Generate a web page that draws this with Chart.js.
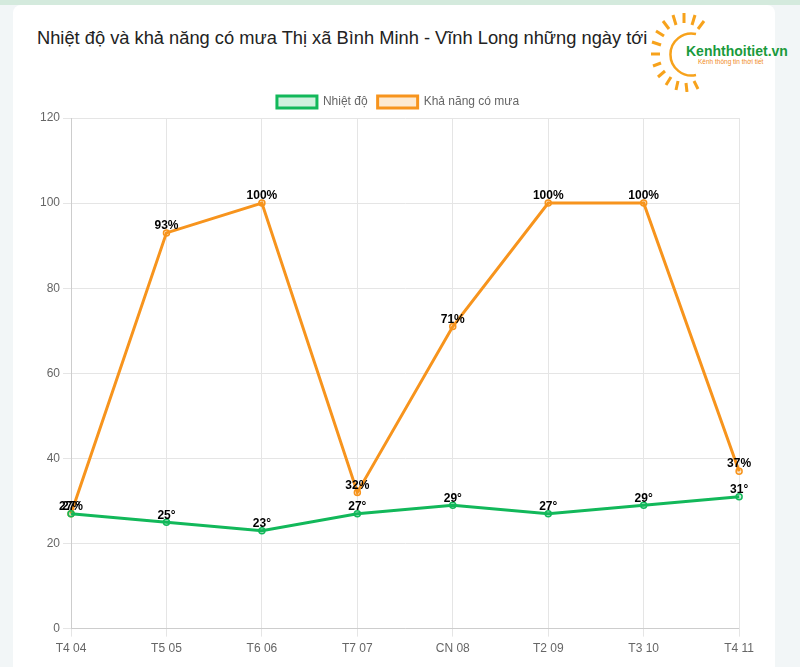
<!DOCTYPE html>
<html>
<head>
<meta charset="utf-8">
<script src="https://cdn.jsdelivr.net/npm/chart.js@4"></script>
<style>
  html, body { margin: 0; padding: 0; }
  body { width: 800px; height: 667px; background: #f2f6f7; position: relative; overflow: hidden; font-family: Arial, "Liberation Sans", sans-serif; }
  .topbar { position: absolute; left: 0; top: 0; width: 800px; height: 5px; background: #d4eadd; }
  .card { position: absolute; left: 13px; top: 5px; width: 762px; height: 680px; background: #fff; border-radius: 8px; }
  .title { position: absolute; left: 37px; top: 27px; font-size: 18.3px; color: #222; white-space: nowrap; }
  .logo { position: absolute; left: 648px; top: 12px; width: 152px; height: 80px; }
  .wrap { position: absolute; left: 37px; top: 86px; width: 722px; height: 581px; }
</style>
</head>
<body>
<div class="topbar"></div>
<div class="card"></div>
<div class="title">Nhiệt độ và khả năng có mưa Thị xã Bình Minh - Vĩnh Long những ngày tới</div>
<svg class="logo" viewBox="0 0 152 80" xmlns="http://www.w3.org/2000/svg">
  <g stroke="#f7a21b" stroke-width="3" stroke-linecap="butt">
    <line x1="36" y1="1" x2="36" y2="11"/>
    <line x1="25" y1="3" x2="28" y2="13"/>
    <line x1="47" y1="3" x2="44" y2="13"/>
    <line x1="15" y1="9" x2="21" y2="17"/>
    <line x1="56" y1="9" x2="50" y2="17"/>
    <line x1="8" y1="19" x2="16" y2="24"/>
    <line x1="4" y1="30" x2="13" y2="33"/>
    <line x1="3" y1="42" x2="12" y2="42"/>
    <line x1="5" y1="54" x2="13" y2="51"/>
    <line x1="10" y1="65" x2="17" y2="59"/>
    <line x1="18" y1="73" x2="23" y2="65"/>
    <line x1="28" y1="78" x2="30" y2="69"/>
    <line x1="39" y1="80" x2="38" y2="71"/>
    <line x1="50" y1="77" x2="46" y2="69"/>
  </g>
  <path d="M48 22 A21 21 0 1 0 48 63" fill="none" stroke="#f7a21b" stroke-width="2.5"/>
  <text x="38" y="44" font-family="Arial, sans-serif" font-weight="bold" font-size="14" fill="#1a9a3c">Kenhthoitiet.vn</text>
  <text x="50" y="52" font-family="Arial, sans-serif" font-size="6.5" fill="#f08a1c">Kênh thông tin thời tiết</text>
</svg>
<div class="wrap"><canvas id="c"></canvas></div>
<script>
const labels = ['T4 04', 'T5 05', 'T6 06', 'T7 07', 'CN 08', 'T2 09', 'T3 10', 'T4 11'];
const temperature = [27, 25, 23, 27, 29, 27, 29, 31];
const rainChance = [27, 93, 100, 32, 71, 100, 100, 37];
const yTicks = [0, 20, 40, 60, 80, 100, 120];

const green = '#12b85a';
const orange = '#f7941d';

// draw the value above every point
const valueLabels = {
  id: 'valueLabels',
  afterDatasetsDraw(chart) {
    const ctx = chart.ctx;
    ctx.save();
    ctx.font = 'bold 12px Arial, "Liberation Sans", sans-serif';
    ctx.fillStyle = '#000';
    ctx.textAlign = 'center';
    ctx.textBaseline = 'bottom';
    chart.data.datasets.forEach((ds, i) => {
      const meta = chart.getDatasetMeta(i);
      meta.data.forEach((pt, j) => {
        ctx.fillText(ds.data[j] + ds.suffix, pt.x, pt.y - 1);
      });
    });
    ctx.restore();
  }
};

new Chart(document.getElementById('c'), {
  type: 'line',
  data: {
    labels: labels,
    datasets: [
      {
        label: 'Nhiệt độ', data: temperature, suffix: '°',
        borderColor: green, backgroundColor: 'rgba(18,184,90,0.2)',
        borderWidth: 3, pointRadius: 3, pointBorderWidth: 1.5, tension: 0
      }, {
        label: 'Khả năng có mưa', data: rainChance, suffix: '%',
        borderColor: orange, backgroundColor: 'rgba(247,148,29,0.2)',
        borderWidth: 3, pointRadius: 3, pointBorderWidth: 1.5, tension: 0
      }
    ]
  },
  options: {
    responsive: true, maintainAspectRatio: false, animation: false,
    layout: { padding: { bottom: 6 } },
    plugins: {
      legend: { labels: { color: '#666', font: { size: 12 }, boxWidth: 40, boxHeight: 12 } },
      tooltip: { enabled: false }
    },
    scales: {
      x: { ticks: { color: '#666', font: { size: 12 }, padding: 5 }, grid: { color: '#e5e5e5' } },
      y: {
        min: yTicks[0], max: yTicks[yTicks.length - 1],
        afterBuildTicks: (axis) => { axis.ticks = yTicks.map(v => ({ value: v })); },
        ticks: { color: '#666', font: { size: 12 } }, grid: { color: '#e5e5e5' }
      }
    }
  },
  plugins: [valueLabels]
});
</script>
</body>
</html>
